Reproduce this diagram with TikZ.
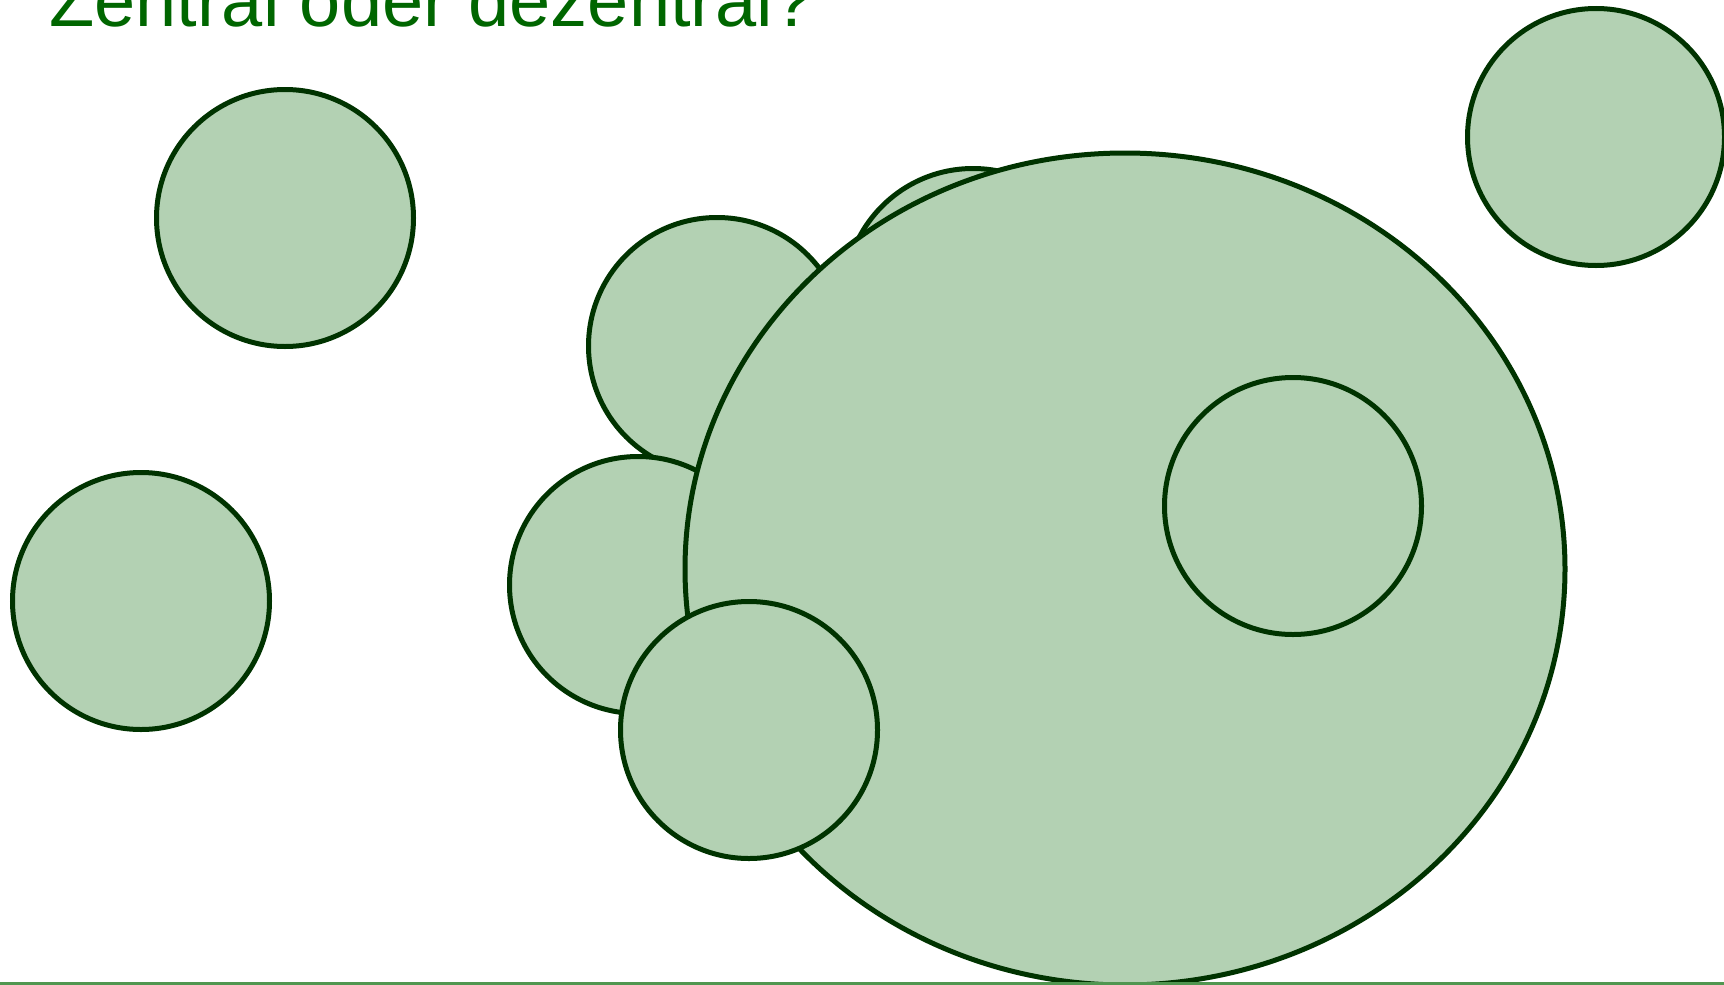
\documentclass[tikz,border=0pt]{standalone}
\usepackage{fontspec}
\setmainfont{Liberation Sans}
\usepackage{tikz}
\usetikzlibrary{shapes.geometric, positioning}
\definecolor{darkgreen}{RGB}{0,51,0}
\definecolor{titlegreen}{RGB}{0,102,0}
\definecolor{lightgreen}{RGB}{179,209,179}
\definecolor{linegreen}{RGB}{80,150,80}
\tikzset{
  bubble/.style={circle, draw=darkgreen, line width=5pt, fill=lightgreen,
                 minimum size=257pt, inner sep=0pt},
  bigbubble/.style={ellipse, draw=darkgreen, line width=5pt, fill=lightgreen,
                    minimum width=880pt, minimum height=832pt, inner sep=0pt}
}

\begin{document}
\begin{tikzpicture}[x=1pt, y=-1pt]
  \useasboundingbox (0,0) rectangle (1724,985);
  % title
  \node[anchor=base west, inner sep=0pt, font=\fontsize{74}{80}\selectfont\color{titlegreen}]
    (title) at (49,26.4) {Zentral oder dezentral?};
  % bubbles behind the big one
  \node[bubble] (topleft) at (285,218) {};
  \node[bubble] (left) at (141,601) {};
  \node[bubble] (midup) at (717,346) {};
  \node[bubble] (midlow) at (638,585) {};
  \node[bubble] (hidden) at (973,297) {};
  \node[bubble] (topright) at (1596,137) {};
  % big bubble
  \node[bigbubble] (center) at (1125,569) {};
  % bubbles in front
  \node[bubble] (inner) at (1293,506) {};
  \node[bubble] (front) at (749,730) {};
  % ground line
  \coordinate (groundL) at (0,983.5);
  \coordinate (groundR) at (1724,983.5);
  \draw[linegreen, line width=3pt] (groundL) -- (groundR);
\end{tikzpicture}
\end{document}
